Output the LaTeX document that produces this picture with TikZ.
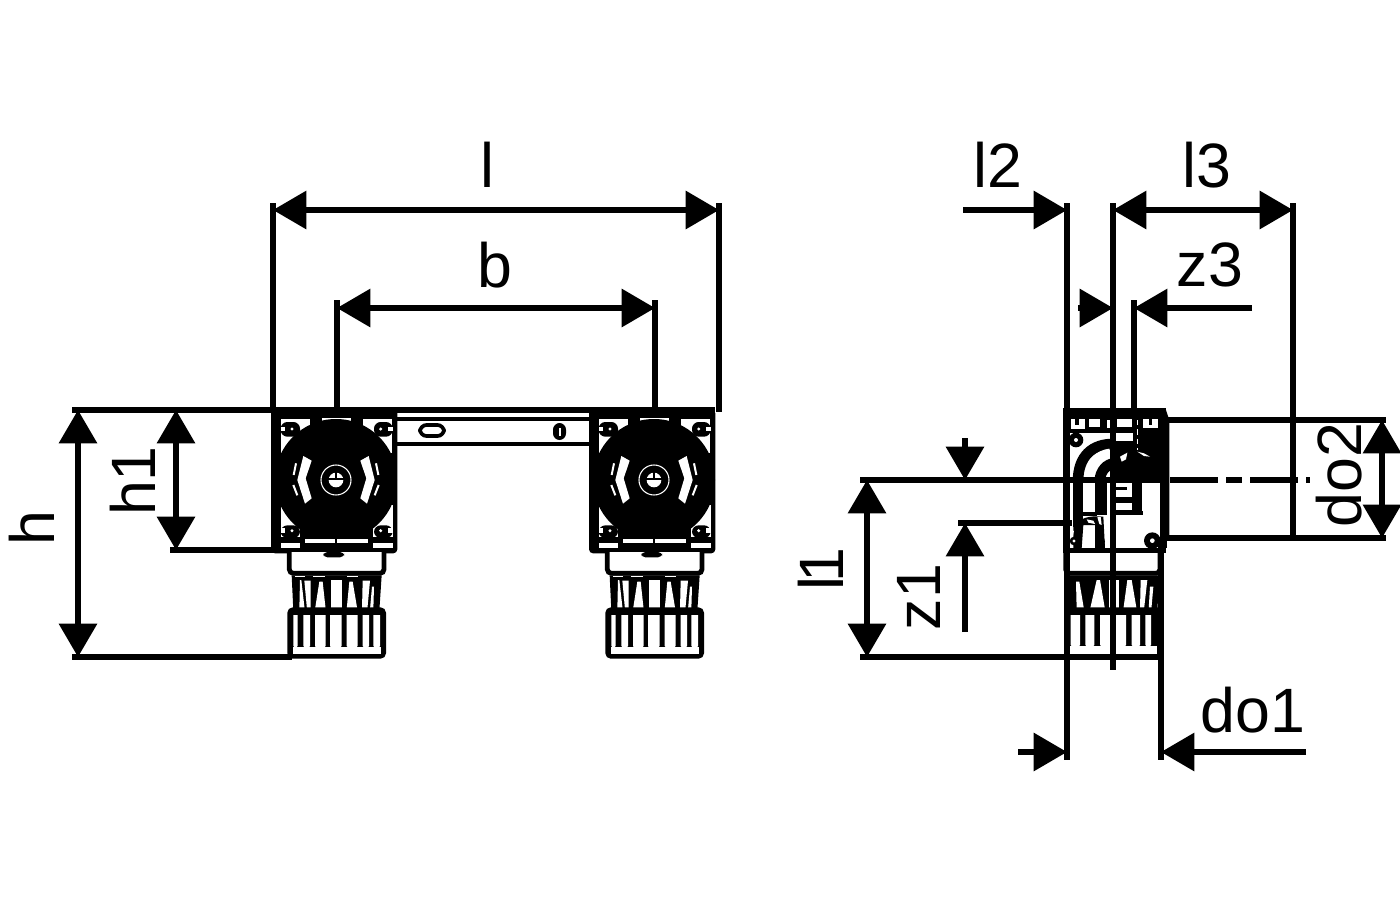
\documentclass[tikz,border=0pt]{standalone}
\usepackage{fontspec}
\setmainfont{Liberation Sans}
\usetikzlibrary{arrows.meta}
\tikzset{
  dim/.style={line width=4pt,-{Triangle[length=25pt,width=28pt]}},
  dimboth/.style={line width=4pt,{Triangle[length=25pt,width=28pt]}-{Triangle[length=25pt,width=28pt]}},
  ext/.style={line width=4pt},
  thin line/.style={line width=3pt},
  lab/.style={inner sep=0pt,font=\fontsize{47}{50}\selectfont},
  hair/.style={line width=.8pt,white}
}
\newcommand{\zzW}[4]{\fill[white] (#1,#2) rectangle (#3,#4);}
\newcommand{\zzB}[4]{\fill[black] (#1,#2) rectangle (#3,#4);}
\newcommand{\zzFins}{%
  \fill[black] (95,526) -- (365,526) -- (358,632) -- (100,632) -- cycle;
}
\newcommand{\zzFront}{%
  % plate
  \fill[black,rounded corners=3pt] (33,28) rectangle (412,460);
  % corner whites
  \zzW{62}{58}{150}{160}
  \zzW{310}{58}{396}{160}
  \zzW{62}{315}{120}{445}
  \zzW{338}{315}{398}{445}
  \zzW{185}{53}{272}{62}
  % disc
  \fill[black] (228,240) circle[radius=183];
  \zzB{120}{380}{338}{418}
  % bolts
  \fill[black,rounded corners=5pt] (62,66) rectangle (120,110);
  \zzW{62}{80}{76}{93}
  \fill[white] (96,87) circle[radius=5];
  \fill[black,rounded corners=5pt] (342,66) rectangle (398,110);
  \zzW{384}{80}{398}{93}
  \fill[white] (362,87) circle[radius=5];
  \fill[black,rounded corners=5pt] (62,376) rectangle (120,414);
  \zzW{62}{385}{76}{398}
  \fill[white] (96,392) circle[radius=5];
  \fill[black,rounded corners=5pt] (342,376) rectangle (398,414);
  \zzW{384}{385}{398}{398}
  \fill[white] (362,392) circle[radius=5];
  \zzB{62}{412}{120}{430}
  \zzB{338}{412}{398}{430}
  % bottom bars
  \zzW{135}{418}{325}{430}
  \zzW{62}{430}{120}{445}
  \zzW{340}{430}{398}{445}
  \zzB{224}{416}{232}{432}
  % crescents
  \fill[white] (130,168) -- (155,182) -- (137,235) -- (155,295) -- (135,311) -- (112,240) -- cycle;
  \fill[white] (326,168) -- (301,182) -- (319,235) -- (301,295) -- (321,311) -- (344,240) -- cycle;
  \draw[white,line width=1.5pt] (108,190) -- (101,225);
  \draw[white,line width=1.5pt] (100,255) -- (112,286);
  \draw[white,line width=1.5pt] (348,190) -- (355,225);
  \draw[white,line width=1.5pt] (356,255) -- (344,286);
  % centre
  \draw[hair] (228,240) circle[radius=45];
  \fill[white] (228,240) circle[radius=22];
  \zzB{205}{235}{251}{240}
  \zzB{226}{215}{230}{238}
  % neck
  \draw[line width=3.6pt,fill=white,rounded corners=3pt] (88,456) -- (88,520) -- (372,520) -- (372,456);
  \fill[black,rounded corners=3pt] (190,456) rectangle (252,472);
  % fins
  \zzFins
  \fill[white] (120,540) -- (124,540) -- (134,628) -- (118,628) -- cycle;
  \fill[white] (133,542) -- (152,542) -- (152,628) -- (141,628) -- cycle;
  \fill[white] (178,545) -- (188,545) -- (197,628) -- (165,628) -- cycle;
  \fill[white] (212,540) -- (245,540) -- (245,628) -- (212,628) -- cycle;
  \fill[white] (268,545) -- (278,545) -- (292,628) -- (260,628) -- cycle;
  \fill[white] (308,542) -- (330,542) -- (322,628) -- (306,628) -- cycle;
  \fill[white] (336,560) -- (342,560) -- (340,628) -- (330,628) -- cycle;
  \zzW{105}{527}{135}{531}
  \zzW{160}{527}{195}{531}
  \zzW{260}{527}{295}{531}
  % cap
  \fill[black,rounded corners=4pt] (82,622) rectangle (378,776);
  \foreach \a/\b in {100/113,130/150,165/197,210/245,260/293,308/327,340/360}{
    \fill[white] (\a,645) -- (\b,645) -- (\b,738) -- (\b-4,742) -- (\a+4,742) -- (\a,738) -- cycle;
  }
  \zzW{98}{740}{362}{763}
}
\newcommand{\zzSide}{%
  % body
  \draw[line width=4pt,fill=white] (47,32) rectangle (340,452);
  \draw[line width=4pt] (340,32) -- (350,62) -- (350,420);
  \zzB{330}{50}{352}{445}
  % top band
  \zzB{47}{32}{340}{100}
  \zzW{62}{56}{105}{88}
  \zzB{74}{56}{88}{74}
  \zzW{116}{56}{150}{80}
  \zzW{172}{60}{188}{85}
  \zzW{200}{56}{245}{80}
  \zzW{280}{56}{325}{85}
  \zzB{296}{56}{306}{74}
  % bolt top-left
  \fill[black] (78,120) circle[radius=22];
  \fill[white] (78,120) circle[radius=6];
  % right block
  \zzB{180}{124}{335}{232}
  \zzB{250}{100}{335}{124}
  \zzW{115}{106}{245}{122}
  \fill[white] (210,170) -- (232,158) -- (228,178) -- (215,185) -- cycle;
  \fill[white] (262,155) -- (282,160) -- (300,170) -- (282,168) -- cycle;
  \draw[white,line width=.8pt,dash pattern=on 4pt off 3pt] (263,60) -- (263,150);
  % elbow
  \draw[line width=8pt] (84,245) .. controls (84,170) and (125,130) .. (195,132);
  \fill[white] (103,235) .. controls (105,180) and (140,150) .. (178,146) -- (178,185) .. controls (150,190) and (140,210) .. (136,235) -- cycle;
  \draw[line width=8pt] (150,240) .. controls (150,215) and (170,190) .. (195,190);
  % centre line crossing
  \zzB{0}{232}{350}{246}
  % pipe
  \zzB{70}{246}{100}{380}
  \zzB{135}{246}{172}{345}
  \zzB{97}{335}{140}{347}
  % lower curved
  \fill[black] (70,380) .. controls (85,355) and (120,345) .. (160,350) -- (165,445) -- (135,445) -- (135,375) -- (100,375) -- (95,445) -- (70,445) -- cycle;
  \fill[white] (110,358) -- (130,362) -- (135,372) -- (115,368) -- cycle;
  \fill[white] (142,352) -- (152,350) -- (155,375) -- (148,372) -- cycle;
  \fill[white] (62,395) -- (72,392) -- (62,440) -- cycle;
  \fill[black] (72,423) circle[radius=13];
  \fill[white] (72,423) circle[radius=5];
  \fill[black] (150,425) circle[radius=15];
  % inner detail
  \zzB{195}{246}{275}{345}
  \zzW{197}{250}{245}{290}
  \zzB{197}{262}{232}{270}
  \zzW{197}{310}{245}{330}
  \fill[white] (275,246) rectangle (330,445);
  \zzB{195}{334}{278}{346}
  \fill[black] (307,422) circle[radius=25];
  \fill[white] (307,422) circle[radius=7];
  % neck
  \draw[line width=3.6pt,fill=white,rounded corners=3pt] (47,456) -- (47,520) -- (330,520) -- (330,456);
  \zzB{44}{445}{340}{458}
  % fins
  \fill[black] (55,526) -- (328,526) -- (322,632) -- (60,632) -- cycle;
  \fill[white] (78,545) -- (88,545) -- (102,628) -- (80,628) -- cycle;
  \fill[white] (140,540) -- (150,540) -- (165,628) -- (120,628) -- cycle;
  \fill[white] (178,540) -- (208,540) -- (208,628) -- (178,628) -- cycle;
  \fill[white] (232,540) -- (245,540) -- (260,628) -- (220,628) -- cycle;
  \fill[white] (272,540) -- (292,540) -- (282,628) -- (270,628) -- cycle;
  \fill[white] (300,560) -- (310,560) -- (304,628) -- (296,628) -- cycle;
  % cap
  \fill[black,rounded corners=4pt] (42,622) rectangle (338,776);
  \foreach \a/\b in {62/90,106/133,150/182,196/228,245/270,286/303}{
    \fill[white] (\a,645) -- (\b,645) -- (\b,735) -- (\b-4,739) -- (\a+4,739) -- (\a,735) -- cycle;
  }
  \zzW{60}{737}{322}{762}
}
\begin{document}
\begin{tikzpicture}[x=.75pt,y=-.75pt]
\useasboundingbox (0,0) rectangle (1400,900);
\fill[white] (0,0) rectangle (1400,900);

% bar
\draw[thin line] (397,419) -- (597,419);
\draw[thin line] (397,444) -- (597,444);
\draw[line width=2.8pt,fill=white,rounded corners=5pt] (420,425) rectangle (444,436);
\fill[black,rounded corners=5pt] (553,423) rectangle (566,440);
\fill[white] (558.5,428) rectangle (560.5,436);

\begin{scope}[shift={(260,400)},x=.25pt,y=-.25pt]\zzFront\end{scope}
\begin{scope}[shift={(578,400)},x=.25pt,y=-.25pt]\zzFront\end{scope}
\begin{scope}[shift={(1050,400)},x=.25pt,y=-.25pt]\zzSide\end{scope}

% coordinates
\coordinate (lL) at (273,210); \coordinate (lR) at (719,210);
\coordinate (lLb) at (273,412); \coordinate (lRb) at (719,412);
\coordinate (lLt) at (273,203); \coordinate (lRt) at (719,203);
\coordinate (bL) at (337,308); \coordinate (bR) at (655,308);
\coordinate (bLt) at (337,300); \coordinate (bRt) at (655,300);
\coordinate (bLb) at (337,412); \coordinate (bRb) at (655,412);
\coordinate (topA) at (72,410); \coordinate (topB) at (715,410);
\coordinate (hT) at (78,410); \coordinate (hB) at (78,657);
\coordinate (hA) at (72,657); \coordinate (hC) at (292,657);
\coordinate (hoT) at (176,410); \coordinate (hoB) at (176,550);
\coordinate (hoA) at (170,550); \coordinate (hoC) at (275,550);

\draw[ext] (lLt) -- (lLb);
\draw[ext] (lRt) -- (lRb);
\draw[ext] (bLt) -- (bLb);
\draw[ext] (bRt) -- (bRb);
\draw[ext] (topA) -- (topB);
\draw[ext] (hA) -- (hC);
\draw[ext] (hoA) -- (hoC);
\draw[dimboth] (lL) -- (lR);
\draw[dimboth] (bL) -- (bR);
\draw[dimboth] (hT) -- (hB);
\draw[dimboth] (hoT) -- (hoB);

% side view dimensions
\coordinate (a) at (963,210); \coordinate (b) at (1067,210);
\coordinate (bt) at (1067,203); \coordinate (bb) at (1067,760);
\coordinate (c) at (1113,210); \coordinate (d) at (1293,210);
\coordinate (ct) at (1113,203); \coordinate (cb) at (1113,670);
\coordinate (dt) at (1293,203); \coordinate (db) at (1293,538);
\coordinate (e) at (1078,308); \coordinate (f) at (1113,308);
\coordinate (g) at (1252,308); \coordinate (i) at (1134,308);
\coordinate (it) at (1134,300); \coordinate (ib) at (1134,412);
\coordinate (pA) at (1165,420); \coordinate (pB) at (1386,420);
\coordinate (qA) at (1165,538); \coordinate (qB) at (1386,538);
\coordinate (rT) at (1382,420); \coordinate (rB) at (1382,538);
\coordinate (clA) at (860,480); \coordinate (clB) at (1168,480);
\coordinate (clC) at (1170,480); \coordinate (clD) at (1310,480);
\coordinate (sT) at (965,438); \coordinate (sB) at (965,480);
\coordinate (uT) at (867,480); \coordinate (uB) at (867,657);
\coordinate (vA) at (860,657); \coordinate (vB) at (1162,657);
\coordinate (wA) at (958,523); \coordinate (wB) at (1072,523);
\coordinate (xT) at (965,523); \coordinate (xB) at (965,632);
\coordinate (yA) at (1018,752); \coordinate (yB) at (1067,752);
\coordinate (yC) at (1306,752); \coordinate (yD) at (1161,752);
\coordinate (yt) at (1161,540); \coordinate (yb) at (1161,760);

\draw[ext] (bt) -- (bb);
\draw[ext] (ct) -- (cb);
\draw[ext] (dt) -- (db);
\draw[ext] (it) -- (ib);
\draw[ext] (pA) -- (pB);
\draw[ext] (qA) -- (qB);
\draw[ext] (clA) -- (clB);
\draw[ext,dash pattern=on 36pt off 6pt on 12pt off 6pt] (clC) -- (clD);
\draw[ext] (vA) -- (vB);
\draw[ext] (wA) -- (wB);
\draw[ext] (yt) -- (yb);
\draw[dim] (a) -- (b);
\draw[dimboth] (c) -- (d);
\draw[dim] (e) -- (f);
\draw[dim] (g) -- (i);
\draw[dimboth] (rT) -- (rB);
\draw[dim] (sT) -- (sB);
\draw[dimboth] (uT) -- (uB);
\draw[dim] (xB) -- (xT);
\draw[dim] (yA) -- (yB);
\draw[dim] (yC) -- (yD);

% labels
\node[lab] (tl) at (487,165) {l};
\node[lab] (tb) at (495,265) {b};
\node[lab,rotate=90] (th) at (32,528) {h};
\node[lab,rotate=90] (tho) at (133,481) {h1};
\node[lab] (tlt) at (998,165) {l2};
\node[lab] (tlth) at (1207,165) {l3};
\node[lab] (tzt) at (1210,265) {z3};
\node[lab,rotate=90] (tdt) at (1339,475) {do2};
\node[lab,rotate=90] (tlo) at (821,569) {l\kern-4.5pt 1};
\node[lab,rotate=90] (tzo) at (919,597) {z1};
\node[lab] (tdo) at (1253,710) {do1};
\end{tikzpicture}
\end{document}
